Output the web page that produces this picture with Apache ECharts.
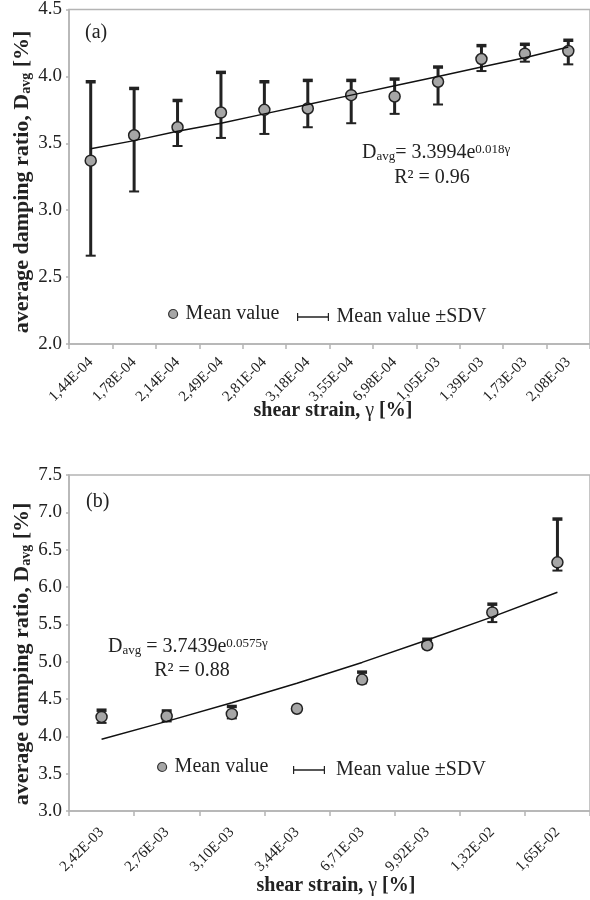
<!DOCTYPE html>
<html>
<head>
<meta charset="utf-8">
<script src="https://cdn.jsdelivr.net/npm/echarts@6/dist/echarts.min.js"></script>
<style>
html,body{margin:0;padding:0;background:#fff;}
#chart{width:590px;height:900px;}
</style>
</head>
<body>
<div id="chart"></div>
<script>
// ---- Data: chart (a) ----
const catsA = ['1,44E-04','1,78E-04','2,14E-04','2,49E-04','2,81E-04','3,18E-04','3,55E-04','6,98E-04','1,05E-03','1,39E-03','1,73E-03','2,08E-03'];
const meanA = [3.37,3.56,3.62,3.73,3.75,3.76,3.86,3.85,3.96,4.13,4.17,4.19];
const upperA = [3.96,3.91,3.82,4.03,3.96,3.97,3.97,3.98,4.07,4.23,4.24,4.27];
const lowerA = [2.66,3.14,3.48,3.54,3.57,3.62,3.65,3.72,3.79,4.04,4.11,4.09];
const trendA = [3.46,3.52,3.59,3.65,3.72,3.79,3.86,3.93,4.00,4.07,4.14,4.22];
const yTicksA = {min:2.0, max:4.5, interval:0.5};

// ---- Data: chart (b) ----
const catsB = ['2,42E-03','2,76E-03','3,10E-03','3,44E-03','6,71E-03','9,92E-03','1,32E-02','1,65E-02'];
const meanB = [4.26,4.27,4.30,4.37,4.76,5.22,5.66,6.33];
const upperB = [4.35,4.34,4.40,4.39,4.86,5.30,5.77,6.91];
const lowerB = [4.18,4.20,4.24,4.34,4.71,5.18,5.53,6.22];
const trendB = [3.96,4.20,4.45,4.71,4.99,5.29,5.60,5.93];
const yTicksB = {min:3.0, max:7.5, interval:0.5};

const SERIF = 'Liberation Serif';
const AXIS_GRAY = '#b4b4b4';
const TXT = '#222';

const chart = echarts.init(document.getElementById('chart'), null, {renderer:'canvas'});

function errRender(params, api){
  const lo = api.coord([api.value(0), api.value(1)]);
  const hi = api.coord([api.value(0), api.value(2)]);
  const w = 5;
  return {type:'group', children:[
    {type:'line', shape:{x1:hi[0],y1:hi[1],x2:lo[0],y2:lo[1]}, style:{stroke:'#222', lineWidth:3}},
    {type:'line', shape:{x1:hi[0]-w,y1:hi[1],x2:hi[0]+w,y2:hi[1]}, style:{stroke:'#222', lineWidth:3.5}},
    {type:'line', shape:{x1:lo[0]-w,y1:lo[1],x2:lo[0]+w,y2:lo[1]}, style:{stroke:'#222', lineWidth:2}}
  ]};
}

function xAxisCfg(cats, gi, margin){
  return {
    type:'category', gridIndex:gi, data:cats, boundaryGap:true,
    axisLine:{lineStyle:{color:AXIS_GRAY, width:1.5}},
    axisTick:{show:true, length:5, lineStyle:{color:AXIS_GRAY, width:1.5}},
    axisLabel:{rotate:45, margin:margin, fontFamily:SERIF, fontSize:15, color:TXT, interval:0},
    splitLine:{show:false}
  };
}
function yAxisCfg(t, gi){
  return {
    type:'value', gridIndex:gi, min:t.min, max:t.max, interval:t.interval,
    axisLine:{show:true, lineStyle:{color:AXIS_GRAY, width:1.5}},
    axisTick:{show:true, length:3, lineStyle:{color:AXIS_GRAY, width:1.5}},
    axisLabel:{margin:7, fontFamily:SERIF, fontSize:19, color:TXT, formatter:v=>v.toFixed(1)},
    splitLine:{show:false}
  };
}

const errIcon = 'path://M0,0H1.5V10H0Z M1.5,4.2H38.5V5.8H1.5Z M38.5,0H40V10H38.5Z';
const legText = {fontFamily:SERIF, fontSize:20, color:TXT, lineHeight:20};
function legendCfg(name, left, top, icon, w, h, itemStyle, pad){
  return {
    data:[{name:name, icon:icon}], left:left, top:top, orient:'horizontal',
    itemWidth:w, itemHeight:h, padding:0, selectedMode:false,
    textStyle:Object.assign({padding:[0,0,0,pad]}, legText),
    itemStyle:itemStyle
  };
}
const meanLegStyle = {color:'#a6a6a6', borderColor:'#333', borderWidth:1.2};
const sdvLegStyle = {color:'#222', borderWidth:0};

const richEq = {
  m:{fontFamily:SERIF, fontSize:20, color:TXT},
  s:{fontFamily:SERIF, fontSize:13, color:TXT, verticalAlign:'bottom', padding:[6,0,0,0]},
  p:{fontFamily:SERIF, fontSize:13, color:TXT, verticalAlign:'top'}
};
const richTitle = {
  m:{fontFamily:SERIF, fontSize:22, fontWeight:'bold', color:TXT},
  s:{fontFamily:SERIF, fontSize:14, fontWeight:'bold', color:TXT, verticalAlign:'bottom', padding:[6,0,0,0]}
};
const richXTitle = {
  m:{fontFamily:SERIF, fontSize:20, fontWeight:'bold', color:TXT},
  g:{fontFamily:SERIF, fontSize:20, fontWeight:'normal', color:TXT}
};

function txt(x, y, text, rich, align, rot){
  return {type:'text', x:x, y:y, rotation:rot||0, silent:true,
    style:{text:text, rich:rich, align:align||'center', textAlign:align||'center', verticalAlign:'middle', textVerticalAlign:'middle', fontFamily:SERIF, fontSize:20, fill:TXT}};
}

const option = {
  backgroundColor:'#fff',
  animation:false,
  textStyle:{fontFamily:SERIF},
  grid:[
    {left:69, top:8, width:527, height:336, show:true, borderColor:AXIS_GRAY, borderWidth:1.5, backgroundColor:'transparent'},
    {left:69, top:475, width:530, height:336, show:true, borderColor:AXIS_GRAY, borderWidth:1.5, backgroundColor:'transparent'}
  ],
  xAxis:[xAxisCfg(catsA,0,16), xAxisCfg(catsB,1,19)],
  yAxis:[yAxisCfg(yTicksA,0), yAxisCfg(yTicksB,1)],
  legend:[
    legendCfg('Mean value', 168, 304, 'circle', 9, 9, meanLegStyle, 3),
    legendCfg('Mean value ±SDV', 297, 307, errIcon, 33, 8, sdvLegStyle, 2),
    legendCfg('Mean value', 157, 757, 'circle', 9, 9, meanLegStyle, 3),
    legendCfg('Mean value ±SDV', 293, 760, errIcon, 32, 8, sdvLegStyle, 6)
  ],
  series:[
    {type:'custom', name:'Mean value ±SDV', xAxisIndex:0, yAxisIndex:0, renderItem:errRender,
     encode:{x:0, y:[1,2]}, itemStyle:{color:'#222'}, z:2,
     data:catsA.map((c,i)=>[i, lowerA[i], upperA[i]])},
    {type:'scatter', name:'Mean value', xAxisIndex:0, yAxisIndex:0, data:meanA, symbol:'circle', symbolSize:11,
     itemStyle:{color:'#a6a6a6', borderColor:'#222', borderWidth:1.5, opacity:1}, z:3},
    {type:'line', name:'trendA', xAxisIndex:0, yAxisIndex:0, data:trendA, symbol:'none', silent:true,
     lineStyle:{color:'#111', width:1.5}, z:4},

    {type:'custom', name:'Mean value ±SDV', xAxisIndex:1, yAxisIndex:1, renderItem:errRender,
     encode:{x:0, y:[1,2]}, itemStyle:{color:'#222'}, z:2,
     data:catsB.map((c,i)=>[i, lowerB[i], upperB[i]])},
    {type:'scatter', name:'Mean value', xAxisIndex:1, yAxisIndex:1, data:meanB, symbol:'circle', symbolSize:11,
     itemStyle:{color:'#a6a6a6', borderColor:'#222', borderWidth:1.5, opacity:1}, z:3},
    {type:'line', name:'trendB', xAxisIndex:1, yAxisIndex:1, data:trendB, symbol:'none', silent:true,
     lineStyle:{color:'#111', width:1.5}, z:4}
  ],
  graphic:[
    txt(22, 182, '{m|average damping ratio, D}{s|avg}{m| [%]}', richTitle, 'center', Math.PI/2),
    txt(22, 654, '{m|average damping ratio, D}{s|avg}{m| [%]}', richTitle, 'center', Math.PI/2),
    txt(333, 411, '{m|shear strain, }{g|γ}{m| [%]}', richXTitle, 'center'),
    txt(336, 886, '{m|shear strain, }{g|γ}{m| [%]}', richXTitle, 'center'),
    txt(85, 33, '{m|(a)}', richEq, 'left'),
    txt(86, 502, '{m|(b)}', richEq, 'left'),
    txt(362, 153, '{m|D}{s|avg}{m|= 3.3994e}{p|0.018γ}', richEq, 'left'),
    txt(432, 178, '{m|R² = 0.96}', richEq, 'center'),
    txt(108, 647, '{m|D}{s|avg}{m| = 3.7439e}{p|0.0575γ}', richEq, 'left'),
    txt(192, 671, '{m|R² = 0.88}', richEq, 'center')
  ]
};
chart.setOption(option);
</script>
</body>
</html>
